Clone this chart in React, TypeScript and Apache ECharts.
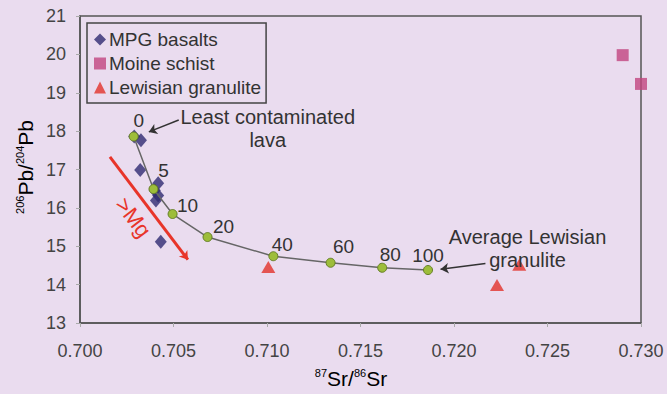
import React, { useEffect, useRef } from "react";
import * as echarts from "echarts";

// ---- data ----
const mixSr = [0.70287, 0.70393, 0.70495, 0.70682, 0.71034, 0.7134, 0.71616, 0.71861];
const mixPb = [17.86, 16.49, 15.84, 15.24, 14.74, 14.57, 14.44, 14.38];
const mixLabels = ["0", "5", "10", "20", "40", "60", "80", "100"];

const mpgSr = [0.7029, 0.70326, 0.70322, 0.70418, 0.704, 0.70418, 0.70406, 0.70432];
const mpgPb = [17.86, 17.76, 16.99, 16.64, 16.45, 16.32, 16.19, 15.12];

const moineSr = [0.72902, 0.73];
const moinePb = [19.98, 19.23];

const lewSr = [0.71007, 0.7223, 0.72349];
const lewPb = [14.46, 13.99, 14.52];

const xTicks = { min: 0.7, max: 0.73, step: 0.005 };
const yTicks = { min: 13, max: 21, step: 1 };

// annotation anchors in data coordinates
const leastArrow = [[0.70528, 18.29], [0.70368, 17.98]];
const leastText = [0.71004, 18.06];
const avgArrow = [[0.72168, 14.55], [0.71928, 14.4]];
const avgText = [0.72393, 14.95];
const mgArrow = [[0.7016, 17.33], [0.70577, 14.65]];
const mgText = [0.70285, 15.75];

// label offsets (style)
const labelOffsets = [[5, -16], [10, -19], [15, -9], [16, -11], [9, -12], [13, -16], [8, -13], [0, -15]];

const FONT = "Liberation Sans";
const BG = "#eadcef";

export default function App() {
  const ref = useRef<HTMLDivElement>(null);
  useEffect(() => {
    if (!ref.current) return;
    const chart = echarts.init(ref.current, undefined, { renderer: "svg" });
    const zip = (a: number[], b: number[]) => a.map((v, i) => [v, b[i]]);
    chart.setOption({
      animation: false,
      backgroundColor: BG,
      textStyle: { fontFamily: FONT },
      grid: {
        left: 80, right: 26, top: 16, bottom: 71,
        show: true, borderColor: "#555", borderWidth: 1.5, backgroundColor: BG,
      },
      legend: {
        left: 87, top: 23, orient: "vertical",
        padding: [7, 5, 6, 7], itemGap: 5, itemWidth: 12, itemHeight: 12,
        borderColor: "#444", borderWidth: 1.5,
        textStyle: { fontSize: 19, color: "#333", fontFamily: FONT, padding: [0, 0, 0, -2] },
        data: [
          { name: "MPG basalts", icon: "diamond" },
          { name: "Moine schist", icon: "rect" },
          { name: "Lewisian granulite", icon: "triangle" },
        ],
      },
      xAxis: {
        type: "value", min: xTicks.min, max: xTicks.max, interval: xTicks.step,
        axisLine: { lineStyle: { color: "#555", width: 1.5 } },
        axisTick: { show: true, length: 4, lineStyle: { color: "#aaa" } },
        splitLine: { show: false },
        axisLabel: { fontSize: 18, color: "#444", margin: 19, fontFamily: FONT, formatter: (v: number) => v.toFixed(3) },
      },
      yAxis: {
        type: "value", min: yTicks.min, max: yTicks.max, interval: yTicks.step,
        axisLine: { show: true, lineStyle: { color: "#555", width: 1.5 } },
        axisTick: { show: true, length: 4, lineStyle: { color: "#aaa" } },
        splitLine: { show: false },
        axisLabel: { fontSize: 18, color: "#444", margin: 14, fontFamily: FONT },
      },
      series: [
        {
          name: "mixing", type: "line",
          lineStyle: { color: "#666", width: 1.5 },
          symbol: "circle", symbolSize: 9, z: 3,
          itemStyle: { color: "#9dbd3a", borderColor: "#667f27", borderWidth: 1 },
          label: { show: false },
          data: mixSr.map((x, i) => ({
            value: [x, mixPb[i]],
            label: {
              show: true, formatter: mixLabels[i], position: "inside",
              offset: labelOffsets[i], fontSize: 19, color: "#333", fontFamily: FONT,
            },
          })),
          markLine: {
            silent: true, symbol: ["none", "arrow"], symbolSize: 8,
            label: { show: false },
            data: [
              [{ coord: leastArrow[0], lineStyle: { color: "#333", width: 1.5, type: "solid" } }, { coord: leastArrow[1] }],
              [{ coord: avgArrow[0], lineStyle: { color: "#333", width: 1.5, type: "solid" } }, { coord: avgArrow[1] }],
              [{ coord: mgArrow[0], lineStyle: { color: "#e8352a", width: 3, type: "solid" }, symbolSize: 14 }, { coord: mgArrow[1] }],
            ],
          },
        },
        {
          name: "MPG basalts", type: "scatter", data: zip(mpgSr, mpgPb),
          symbol: "diamond", symbolSize: [12, 14], z: 2,
          itemStyle: { color: "#2f2a72" },
        },
        {
          name: "Moine schist", type: "scatter", data: zip(moineSr, moinePb), clip: false,
          symbol: "rect", symbolSize: 12,
          itemStyle: { color: "#c2457f" },
        },
        {
          name: "Lewisian granulite", type: "scatter", data: zip(lewSr, lewPb),
          symbol: "triangle", symbolSize: [14, 12],
          itemStyle: { color: "#e2322b" },
        },
      ],
    });

    const px = (p: number[]) => chart.convertToPixel({ gridIndex: 0 }, p) as number[];
    const lt = px(leastText);
    const at = px(avgText);
    const mt = px(mgText);
    const mg0 = px(mgArrow[0]);
    const mg1 = px(mgArrow[1]);
    const ang = Math.atan2(mg1[1] - mg0[1], mg1[0] - mg0[0]);
    const supRich = {
      b: { fontSize: 21, color: "#333", fontFamily: FONT },
      s: { fontSize: 11, color: "#333", fontFamily: FONT, padding: [0, 0, 10, 0] },
    };
    chart.setOption({
      graphic: [
        {
          type: "text", x: lt[0], y: lt[1], z: 10,
          style: {
            text: "Least contaminated\nlava", align: "center", verticalAlign: "middle",
            fontSize: 20, lineHeight: 23, fill: "#333", fontFamily: FONT,
          },
        },
        {
          type: "text", x: at[0], y: at[1], z: 10,
          style: {
            text: "Average Lewisian\ngranulite", align: "center", verticalAlign: "middle",
            fontSize: 20, lineHeight: 23, fill: "#333", fontFamily: FONT,
          },
        },
        {
          type: "text", x: mt[0], y: mt[1], rotation: -ang, z: 10,
          style: {
            text: ">Mg", align: "center", verticalAlign: "middle",
            fontSize: 22, fill: "#e8352a", fontFamily: FONT,
          },
        },
        {
          type: "text", x: 351, y: 378, z: 10,
          style: {
            text: "{s|87}{b|Sr/}{s|86}{b|Sr}", align: "center", verticalAlign: "middle",
            rich: supRich,
          },
        },
        {
          type: "text", x: 25, y: 167, rotation: Math.PI / 2, z: 10,
          style: {
            text: "{s|206}{b|Pb/}{s|204}{b|Pb}", align: "center", verticalAlign: "middle",
            rich: supRich,
          },
        },
      ],
    });
    return () => chart.dispose();
  }, []);
  return <div ref={ref} style={{ width: 667, height: 394, position: "absolute", left: 0, top: 0 }} />;
}
